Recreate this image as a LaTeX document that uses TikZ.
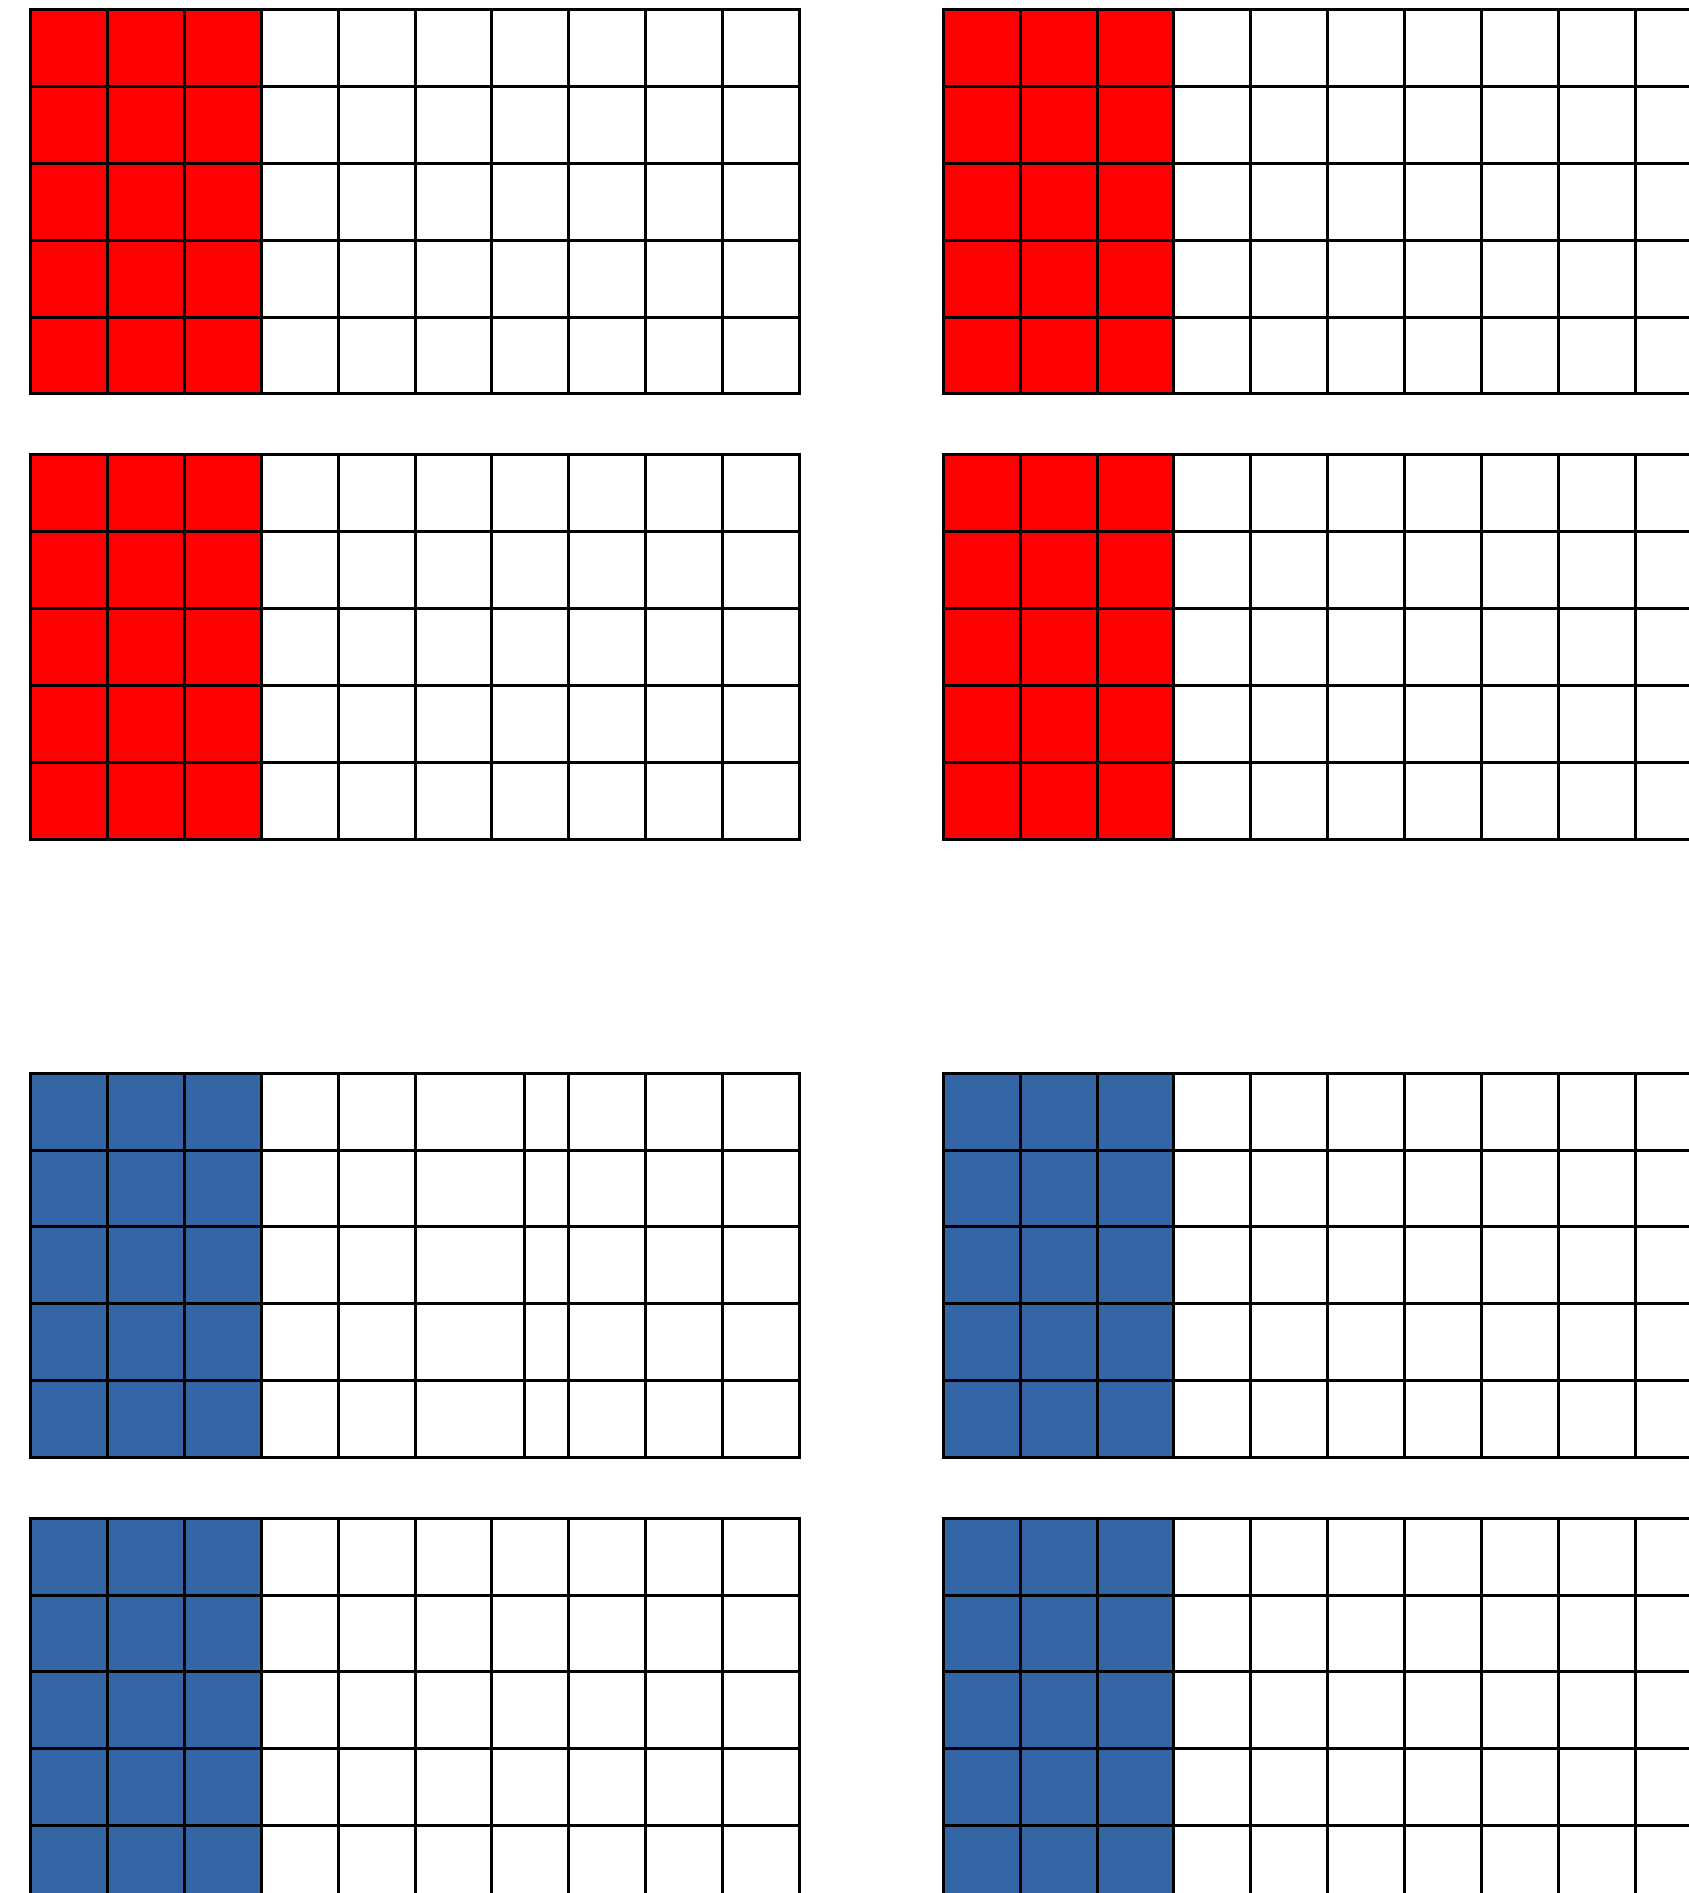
\documentclass[tikz,border=0pt]{standalone}
\definecolor{gred}{RGB}{255,0,0}
\definecolor{gblue}{RGB}{52,101,164}
\newcommand{\mygrid}[4]{%
  \fill[#3] (#1,#2) rectangle ++(230.6,384);
  \foreach \yy in {1,...,4} \draw[gridline] (#1,#2+\yy*76.8) -- ++(768.6,0);
  \foreach \xx in #4 \draw[gridline] (#1+\xx,#2) -- ++(0,384);
  \draw[gridline] (#1,#2) rectangle ++(768.6,384);
}
\begin{document}
\begin{tikzpicture}[x=0.5pt,y=-0.5pt,
  gridline/.style={line width=1.5pt, black}]
\useasboundingbox (0,0) rectangle (1689,1893);
\clip (0,0) rectangle (1689,1893);
\fill[white] (0,0) rectangle (1689,1893);
\def\normcols{76.86,153.72,230.58,307.44,384.3,461.16,538.02,614.88,691.74}
\def\oddcols{76.86,153.72,230.58,307.44,384.3,493.3,538.02,614.88,691.74}
% red grids
\mygrid{30.7}{10}{gred}{\normcols}
\mygrid{943.3}{10}{gred}{\normcols}
\mygrid{30.7}{455}{gred}{\normcols}
\mygrid{943.3}{455}{gred}{\normcols}
% blue grids
\mygrid{30.7}{1073.3}{gblue}{\oddcols}
\mygrid{943.3}{1073.3}{gblue}{\normcols}
\mygrid{30.7}{1518.3}{gblue}{\normcols}
\mygrid{943.3}{1518.3}{gblue}{\normcols}
\end{tikzpicture}
\end{document}
